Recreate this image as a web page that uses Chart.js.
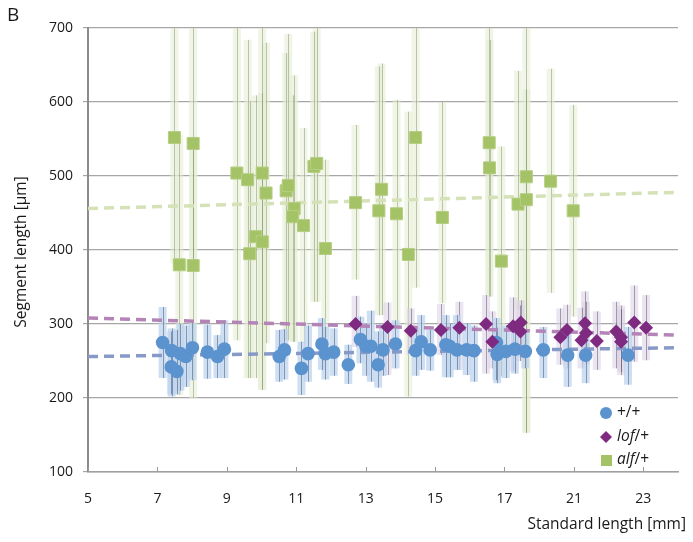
<!DOCTYPE html>
<html>
<head>
<meta charset="utf-8">
<script src="https://cdn.jsdelivr.net/npm/chart.js@4.4.1/dist/chart.umd.min.js"></script>
<style>
  html, body { margin: 0; padding: 0; background: #fff; }
  #wrap { width: 693px; height: 542px; position: relative; }
</style>
</head>
<body>
<div id="wrap"><canvas id="segChart" width="693" height="542"></canvas></div>
<script>
// values (x in axis units, y in µm)
const wildX  = [7.15, 7.41, 7.40, 7.56, 7.66, 7.82, 8.01, 8.44, 8.73, 8.93, 10.51, 10.66, 11.15, 11.34, 11.74, 11.84, 12.08, 12.50, 12.85, 13.01, 13.15, 13.36, 13.50, 13.86, 14.44, 14.60, 14.86, 15.31, 15.42, 15.63, 15.91, 16.12, 16.77, 16.79, 17.04, 17.30, 17.60, 18.12, 18.82, 19.34, 20.56];
const wildY  = [275, 264, 242, 236, 260, 256, 268, 262, 256, 266, 256, 265, 240, 260, 273, 260, 262, 245, 279, 270, 270, 245, 265, 273, 264, 276, 265, 272, 270, 265, 265, 264, 275, 259, 263, 266, 263, 265, 258, 258, 258];
const wildLo = [227, 202, 205, 205, 210, 215, 224, 226, 227, 227, 222, 225, 204, 222, 238, 225, 230, 219, 247, 230, 222, 214, 230, 240, 230, 238, 237, 228, 228, 238, 231, 222, 224, 220, 227, 233, 240, 227, 215, 220, 218];
const wildHi = [323, 294, 290, 292, 300, 298, 301, 299, 285, 305, 292, 293, 276, 298, 308, 296, 294, 272, 310, 300, 318, 290, 300, 305, 295, 312, 292, 312, 300, 312, 301, 298, 308, 295, 298, 300, 290, 296, 290, 288, 296];

const lofX  = [12.71, 13.63, 14.30, 15.17, 15.70, 16.47, 16.65, 17.25, 17.47, 17.46, 18.61, 18.80, 19.22, 19.32, 19.35, 19.66, 20.22, 20.36, 20.36, 20.74, 21.08];
const lofY  = [300, 296, 291, 292, 295, 300, 276, 297, 302, 290, 282, 292, 278, 301, 288, 277, 290, 282, 276, 302, 295];
const lofLo = [269, 231, 258, 258, 238, 233, 240, 236, 255, 250, 245, 240, 240, 255, 245, 238, 240, 231, 235, 249, 251];
const lofHi = [338, 329, 321, 327, 330, 339, 317, 336, 332, 325, 321, 326, 322, 344, 330, 317, 330, 325, 320, 352, 339];

const alfX  = [7.49, 7.63, 8.03, 8.03, 9.29, 9.60, 10.02, 10.13, 9.83, 10.02, 9.66, 10.71, 10.77, 10.94, 10.90, 11.21, 11.51, 11.59, 11.84, 12.71, 13.38, 13.46, 13.89, 14.23, 14.44, 15.21, 16.56, 16.57, 16.91, 17.39, 17.63, 17.63, 18.33, 18.98];
const alfY  = [552, 380, 544, 379, 504, 495, 504, 477, 418, 411, 395, 480, 487, 456, 445, 433, 513, 517, 402, 464, 453, 482, 449, 394, 552, 444, 545, 511, 385, 462, 499, 468, 493, 453];
const alfLo = [382, 204, 380, 200, 278, 227, 211, 274, 227, 211, 227, 278, 278, 276, 276, 274, 330, 330, 283, 360, 312, 312, 296, 202, 349, 328, 337, 337, 229, 319, 153, 153, 342, 310];
const alfHi = [700, 555, 700, 545, 700, 684, 700, 680, 609, 612, 601, 666, 692, 636, 609, 565, 695, 700, 522, 569, 648, 652, 603, 587, 700, 600, 700, 684, 540, 642, 700, 617, 645, 596];

const trendX = [5, 22];
const wildTrend = [256, 268];
const lofTrend = [308, 285];
const alfTrend = [456, 478];

const xTickValues = [5, 7, 9, 11, 13, 15, 17, 19, 21];
const xTickLabels = ['5', '7', '9', '11', '13', '15', '17', '21', '23'];

const FONT = "'Open Sans', sans-serif";

function points(xs, ys, lo, hi) {
    return xs.map((x, i) => ({ x, y: ys[i], lo: lo ? lo[i] : null, hi: hi ? hi[i] : null }));
}

function trend(values) {
    return trendX.map((x, i) => ({ x, y: values[i] }));
}

// light wide bar + thin darker line for every point's range
const errorBars = {
    id: 'errorBars',
    beforeDatasetsDraw(chart) {
        const { ctx, chartArea, scales: { x, y } } = chart;
        ctx.save();
        ctx.beginPath();
        ctx.rect(chartArea.left, chartArea.top, chartArea.right - chartArea.left, chartArea.bottom - chartArea.top);
        ctx.clip();
        chart.data.datasets.forEach((ds) => {
            if (!ds.barFill) return;
            ds.data.forEach((p) => {
                const px = x.getPixelForValue(p.x);
                const top = y.getPixelForValue(p.hi);
                const bot = y.getPixelForValue(p.lo);
                ctx.fillStyle = ds.barFill;
                ctx.fillRect(px - 4, top, 8, bot - top);
            });
            ds.data.forEach((p) => {
                const px = Math.round(x.getPixelForValue(p.x)) + 0.5;
                ctx.strokeStyle = ds.barLine;
                ctx.lineWidth = 1;
                ctx.beginPath();
                ctx.moveTo(px, y.getPixelForValue(p.hi));
                ctx.lineTo(px, y.getPixelForValue(p.lo));
                ctx.stroke();
            });
        });
        ctx.restore();
    }
};

const decorations = {
    id: 'decorations',
    afterDraw(chart) {
        const { ctx, chartArea, scales: { x } } = chart;
        ctx.save();

        // tick marks pointing up from the x axis
        ctx.strokeStyle = '#9a9a9a';
        ctx.lineWidth = 1;
        xTickValues.forEach((v) => {
            const px = Math.round(x.getPixelForValue(v)) + 0.5;
            ctx.beginPath();
            ctx.moveTo(px, chartArea.bottom);
            ctx.lineTo(px, chartArea.bottom - 5);
            ctx.stroke();
        });

        ctx.fillStyle = '#1a1a1a';
        ctx.textBaseline = 'middle';

        ctx.font = `19px ${FONT}`;
        ctx.textAlign = 'left';
        ctx.fillText('B', 7, 16);

        ctx.font = `15.5px ${FONT}`;
        ctx.textAlign = 'right';
        ctx.fillText('Standard length [mm]', 686, 525);

        ctx.save();
        ctx.translate(22, 252);
        ctx.rotate(-Math.PI / 2);
        ctx.textAlign = 'center';
        ctx.fillText('Segment length [µm]', 0, 0);
        ctx.restore();

        // legend
        const rows = [
            { y: 413, shape: 'circle', color: '#5b93cf', italic: '', rest: '+/+' },
            { y: 437, shape: 'diamond', color: '#7e2a80', italic: 'lof', rest: '/+' },
            { y: 460, shape: 'square', color: '#a4c266', italic: 'alf', rest: '/+' }
        ];
        rows.forEach((r) => {
            ctx.fillStyle = r.color;
            ctx.beginPath();
            if (r.shape === 'circle') ctx.arc(606, r.y, 6, 0, Math.PI * 2);
            if (r.shape === 'diamond') {
                ctx.moveTo(606, r.y - 6);
                ctx.lineTo(612, r.y);
                ctx.lineTo(606, r.y + 6);
                ctx.lineTo(600, r.y);
                ctx.closePath();
            }
            if (r.shape === 'square') ctx.rect(601, r.y - 5, 11, 11);
            ctx.fill();

            ctx.fillStyle = '#1a1a1a';
            ctx.textAlign = 'left';
            let tx = 617;
            if (r.italic) {
                ctx.font = `italic 15.5px ${FONT}`;
                ctx.fillText(r.italic, tx, r.y);
                tx += ctx.measureText(r.italic).width;
            }
            ctx.font = `15.5px ${FONT}`;
            ctx.fillText(r.rest, tx, r.y);
        });

        ctx.restore();
    }
};

new Chart(document.getElementById('segChart'), {
    type: 'scatter',
    data: {
        datasets: [
            {
                label: 'alf/+',
                data: points(alfX, alfY, alfLo, alfHi),
                pointStyle: 'rect',
                pointRadius: 8.5,
                backgroundColor: '#a4c266',
                borderColor: '#b5cf83',
                borderWidth: 1,
                barFill: 'rgba(228, 236, 210, 0.55)',
                barLine: 'rgba(120, 135, 100, 0.45)',
                order: 0
            },
            {
                label: 'lof/+',
                data: points(lofX, lofY, lofLo, lofHi),
                pointStyle: 'rectRot',
                pointRadius: 7,
                backgroundColor: '#7e2a80',
                borderColor: '#7e2a80',
                borderWidth: 0,
                barFill: 'rgba(220, 212, 230, 0.6)',
                barLine: 'rgba(90, 75, 95, 0.5)',
                order: 0
            },
            {
                label: '+/+',
                data: points(wildX, wildY, wildLo, wildHi),
                pointStyle: 'circle',
                pointRadius: 6.8,
                backgroundColor: '#5b93cf',
                borderColor: '#5b93cf',
                borderWidth: 0,
                barFill: 'rgba(190, 212, 240, 0.75)',
                barLine: 'rgba(60, 75, 100, 0.5)',
                order: 0
            },
            {
                type: 'line',
                label: 'alf trend',
                data: trend(alfTrend),
                borderColor: '#d5e2b8',
                borderWidth: 3.5,
                borderDash: [10, 6],
                pointRadius: 0,
                order: 1
            },
            {
                type: 'line',
                label: 'lof trend',
                data: trend(lofTrend),
                borderColor: '#b484b7',
                borderWidth: 3.5,
                borderDash: [10, 6],
                pointRadius: 0,
                order: 1
            },
            {
                type: 'line',
                label: 'wt trend',
                data: trend(wildTrend),
                borderColor: '#8799c7',
                borderWidth: 3.5,
                borderDash: [10, 6],
                pointRadius: 0,
                order: 1
            }
        ]
    },
    options: {
        responsive: false,
        animation: false,
        layout: { padding: { top: 28, right: 15, left: 0, bottom: 0 } },
        plugins: { legend: { display: false }, tooltip: { enabled: false } },
        scales: {
            x: {
                type: 'linear',
                min: 5,
                max: 22,
                afterBuildTicks: (scale) => { scale.ticks = xTickValues.map((v) => ({ value: v })); },
                afterFit: (scale) => { scale.height = 70; },
                ticks: {
                    callback: (v, i) => xTickLabels[i],
                    color: '#1a1a1a',
                    font: { family: FONT, size: 14 },
                    padding: 19,
                    maxRotation: 0
                },
                grid: { display: false, drawTicks: false },
                border: { display: true, color: '#a0a0a0', width: 1.5 }
            },
            y: {
                min: 100,
                max: 700,
                afterFit: (scale) => { scale.width = 88; },
                ticks: {
                    stepSize: 100,
                    color: '#1a1a1a',
                    font: { family: FONT, size: 14 },
                    padding: 10
                },
                grid: { color: '#a6a6a6', lineWidth: 1.2, tickLength: 5 },
                border: { display: true, color: '#8c8c8c', width: 2 }
            }
        }
    },
    plugins: [errorBars, decorations]
});
</script>
</body>
</html>
